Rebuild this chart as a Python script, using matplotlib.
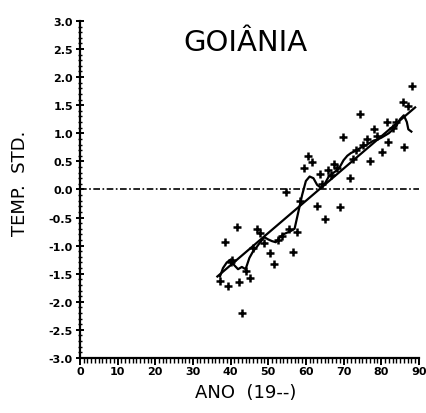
import matplotlib
matplotlib.use("Agg")
import matplotlib.pyplot as plt
from matplotlib.ticker import MultipleLocator, FormatStrFormatter

# ── Data ─────────────────────────────────────────────────────────────────────
years = [37.2, 38.5, 39.3, 40.0, 40.5, 41.7, 42.2, 43.0, 44.0, 45.1,
         46.0, 47.0, 47.8, 49.0, 50.4, 51.5, 52.5, 53.6, 54.7, 55.5,
         56.6, 57.6, 58.5, 59.5, 60.5, 61.6, 62.9, 63.7, 64.2, 65.0,
         65.8, 66.8, 67.5, 68.2, 69.0, 69.8, 71.7, 72.5, 73.2, 74.3,
         75.2, 76.2, 77.0, 78.0, 79.0, 80.2, 81.5, 81.8, 83.0, 84.0,
         85.7, 86.0, 87.1, 88.1]
temp_std = [-1.63, -0.94, -1.72, -1.30, -1.25, -0.66, -1.65, -2.20, -1.45, -1.58,
            -1.05, -0.71, -0.77, -0.95, -1.14, -1.33, -0.90, -0.83, -0.05, -0.70,
            -1.12, -0.76, -0.20, 0.39, 0.59, 0.48, -0.30, 0.28, 0.10, -0.53,
            0.34, 0.25, 0.45, 0.39, -0.32, 0.94, 0.20, 0.55, 0.70, 1.35,
            0.80, 0.90, 0.50, 1.07, 0.95, 0.66, 1.20, 0.84, 1.10, 1.20,
            1.55, 0.75, 1.48, 1.85]

smooth_years = [37.2, 38, 39, 40, 41, 42, 43, 44, 45, 46, 47, 48, 49, 50,
                51, 52, 53, 54, 55, 56, 57, 58, 59, 60, 61, 62, 63, 64,
                65, 66, 67, 68, 69, 70, 71, 72, 73, 74, 75, 76, 77, 78,
                79, 80, 81, 82, 83, 84, 85, 86, 86.8, 87.2, 88]
smooth_vals = [-1.55, -1.40, -1.30, -1.25, -1.35, -1.42, -1.38, -1.42, -1.22, -1.10,
               -1.02, -0.93, -0.85, -0.89, -0.92, -0.94, -0.86, -0.80, -0.77, -0.74,
               -0.70, -0.40, -0.10, 0.15, 0.23, 0.20, 0.08, 0.03, 0.10, 0.22,
               0.28, 0.33, 0.40, 0.52, 0.60, 0.65, 0.68, 0.72, 0.76, 0.79,
               0.83, 0.87, 0.89, 0.92, 0.96, 1.00, 1.06, 1.13, 1.25, 1.32,
               1.20, 1.07, 1.03]

trend_years = [36.5, 89.0]
trend_vals = [-1.55, 1.46]

zero_x = [0, 90]
zero_y = [0, 0]

fig = plt.figure(figsize=(4.27, 4.14), dpi=100)
ax = fig.add_axes([0.187, 0.133, 0.794, 0.814])

ax.plot(zero_x, zero_y, color="black", linewidth=1.2,
        linestyle=(0, (4, 1.5, 1, 1.5)))
ax.plot(trend_years, trend_vals, color="black", linewidth=1.6)
ax.plot(smooth_years, smooth_vals, color="black", linewidth=1.6)
ax.plot(years, temp_std, linestyle="none", marker="+", color="black",
        markersize=5.5, markeredgewidth=1.8)

ax.set_xlim(0, 90)
ax.set_ylim(-3.0, 3.0)
ax.spines["top"].set_visible(False)
ax.spines["right"].set_visible(False)
ax.spines["left"].set_linewidth(1.6)
ax.spines["bottom"].set_linewidth(1.6)

ax.xaxis.set_major_locator(MultipleLocator(10))
ax.xaxis.set_minor_locator(MultipleLocator(1))
ax.yaxis.set_major_locator(MultipleLocator(0.5))
ax.yaxis.set_minor_locator(MultipleLocator(0.1))
ax.yaxis.set_major_formatter(FormatStrFormatter("%.1f"))
ax.tick_params(axis="x", which="major", direction="out", length=5, width=1.4,
               labelsize=8, pad=1)
ax.tick_params(axis="x", which="minor", direction="out", length=3.5, width=1)
ax.tick_params(axis="y", which="major", direction="inout", length=6, width=1.4,
               labelsize=8, pad=2)
ax.tick_params(axis="y", which="minor", direction="inout", length=3.5, width=1)
for lab in ax.get_xticklabels() + ax.get_yticklabels():
    lab.set_fontweight("bold")

ax.text(44, 2.62, "GOIÂNIA", fontsize=21, ha="center", va="center")
ax.set_ylabel("TEMP.  STD.", fontsize=13)
ax.set_xlabel("ANO  (19--)", fontsize=13)
ax.yaxis.set_label_coords(-0.15, 0.52)
ax.xaxis.set_label_coords(0.49, -0.075)

fig.savefig("out.png", dpi=100)
